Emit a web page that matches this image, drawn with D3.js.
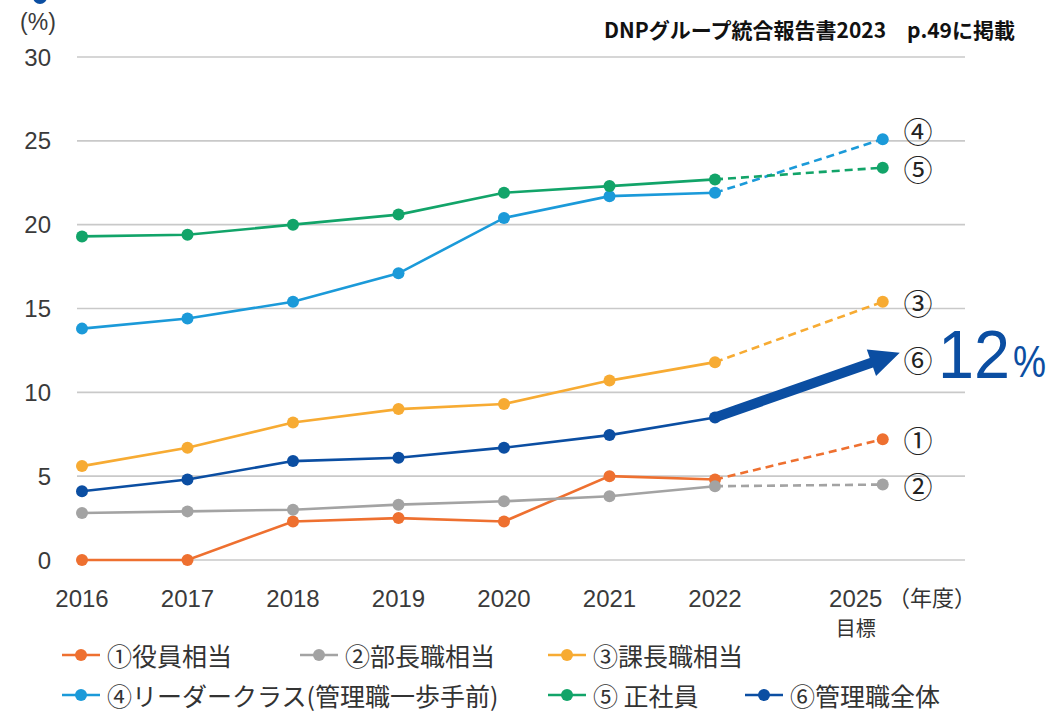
<!DOCTYPE html>
<html>
<head>
<meta charset="utf-8">
<script src="https://cdn.jsdelivr.net/npm/d3@7"></script>
<style>
  body { margin: 0; background: #fff; }
  svg { display: block; }
  .tick-label { font-family: "Liberation Sans Narrow", "Liberation Sans", sans-serif; fill: #3a3a3a; }
  .jp { font-family: "Noto Sans CJK JP", sans-serif; fill: #333; }
</style>
</head>
<body>
<div id="chart"></div>
<script>
// categories (2025 is the target year, drawn with a wider gap)
const years = ["2016", "2017", "2018", "2019", "2020", "2021", "2022", "2025"];
const yTicks = [0, 5, 10, 15, 20, 25, 30];

// series values (%)
const yakuin   = [0.0, 0.0, 2.3, 2.5, 2.3, 5.0, 4.8, 7.2];
const buchou   = [2.8, 2.9, 3.0, 3.3, 3.5, 3.8, 4.4, 4.5];
const kachou   = [5.6, 6.7, 8.2, 9.0, 9.3, 10.7, 11.8, 15.4];
const leader   = [13.8, 14.4, 15.4, 17.1, 20.4, 21.7, 21.9, 25.1];
const seishain = [19.3, 19.4, 20.0, 20.6, 21.9, 22.3, 22.7, 23.4];
const kanri    = [4.1, 4.8, 5.9, 6.1, 6.7, 7.45, 8.5, 12];

const seriesNames = ["①役員相当", "②部長職相当", "③課長職相当", "④リーダークラス(管理職一歩手前)", "⑤ 正社員", "⑥管理職全体"];
const marks = ["①", "②", "③", "④", "⑤", "⑥"];
const colors = ["#ee7030", "#a3a3a3", "#f7ab33", "#1b9ad9", "#12a469", "#0b4ea2"];

const series = [yakuin, buchou, kachou, leader, seishain, kanri].map((v, i) => ({
    name: seriesNames[i], mark: marks[i], color: colors[i], values: v
}));

const width = 1051, height = 712;
const svg = d3.select("#chart").append("svg")
    .attr("width", width).attr("height", height);

// x: index scale, the target year sits 1.6 steps after 2022
const xIndex = years.map((d, i) => i < 7 ? i : 6 + 1.59);
const x = d3.scaleLinear().domain([0, 6]).range([82, 715]);
const y = d3.scaleLinear().domain([0, 30]).range([560, 57]);

// gridlines
svg.append("g").selectAll("line").data(yTicks).join("line")
    .attr("x1", 77).attr("x2", 965)
    .attr("y1", d => y(d)).attr("y2", d => y(d))
    .attr("stroke", "#c9c9c9").attr("stroke-width", 1.6);

// y tick labels
svg.append("g").selectAll("text").data(yTicks).join("text")
    .attr("class", "tick-label")
    .attr("x", 51).attr("y", d => y(d))
    .attr("text-anchor", "end").attr("dominant-baseline", "central")
    .style("font-size", "24px")
    .text(d => d);

svg.append("text").attr("class", "tick-label")
    .attr("x", 38).attr("y", 22).attr("text-anchor", "middle")
    .attr("dominant-baseline", "central")
    .style("font-size", "23px").text("(%)");

// small mark at top-left (cropped in source)
svg.append("circle").attr("cx", 40).attr("cy", -3).attr("r", 7).attr("fill", colors[5]);

// x labels
svg.append("g").selectAll("text").data(years).join("text")
    .attr("class", "tick-label")
    .attr("x", (d, i) => x(xIndex[i]) - (i === 7 ? 27 : 0)).attr("y", 607)
    .attr("text-anchor", "middle")
    .style("font-size", "24px")
    .text(d => d);
svg.append("text").attr("class", "jp")
    .attr("x", 888).attr("y", 606)
    .style("font-size", "22px").text("（年度）");
svg.append("text").attr("class", "jp")
    .attr("x", x(xIndex[7]) - 27).attr("y", 636)
    .attr("text-anchor", "middle")
    .style("font-size", "20px").text("目標");

// title
svg.append("text").attr("class", "jp")
    .attr("x", 1015).attr("y", 38).attr("text-anchor", "end")
    .style("font-size", "21px").style("font-weight", "bold").style("fill", "#111")
    .text("DNPグループ統合報告書2023　p.49に掲載");

const line = d3.line().x(d => x(d[0])).y(d => y(d[1]));

// lines
series.forEach((s, si) => {
    const pts = s.values.map((v, i) => [xIndex[i], v]);
    const g = svg.append("g");
    g.append("path").datum(pts.slice(0, 7))
        .attr("d", line).attr("fill", "none")
        .attr("stroke", s.color).attr("stroke-width", 2.6);
    if (si !== 5) {
        g.append("path").datum(pts.slice(6))
            .attr("d", line).attr("fill", "none")
            .attr("stroke", s.color).attr("stroke-width", 2.6)
            .attr("stroke-dasharray", "8,5");
    }
    const dots = si === 5 ? pts.slice(0, 7) : pts;
    g.selectAll("circle").data(dots).join("circle")
        .attr("cx", d => x(d[0])).attr("cy", d => y(d[1]))
        .attr("r", 6).attr("fill", s.color);
});

// big arrow for ⑥
{
    const s = series[5];
    const x0 = x(xIndex[6]), y0 = y(s.values[6]);
    const x1 = x(xIndex[7]), y1 = y(s.values[7]);
    const ang = Math.atan2(y1 - y0, x1 - x0);
    const len = Math.hypot(x1 - x0, y1 - y0) + 18;
    const headL = 30, headW = 28, shaftW = 10;
    const g = svg.append("g")
        .attr("transform", `translate(${x0},${y0}) rotate(${ang * 180 / Math.PI})`);
    g.append("path")
        .attr("d", `M0,${-shaftW / 2} L${len - headL},${-shaftW / 2} L${len - headL},${-headW / 2}
                    L${len},0 L${len - headL},${headW / 2} L${len - headL},${shaftW / 2} L0,${shaftW / 2} Z`)
        .attr("fill", s.color);
}

// circled end labels
series.forEach(s => {
    svg.append("text").attr("class", "jp")
        .attr("x", 918).attr("y", y(s.values[7]) + (s.mark === "④" ? -9 : 0))
        .attr("text-anchor", "middle").attr("dominant-baseline", "central")
        .style("font-size", "29px").style("fill", "#222")
        .text(s.mark);
});

// 12%
svg.append("text")
    .attr("x", 938).attr("y", 378)
    .attr("textLength", 72).attr("lengthAdjust", "spacingAndGlyphs")
    .style("font-family", "'Liberation Sans', sans-serif").style("font-size", "68px")
    .style("fill", colors[5])
    .text(kanri[7]);
svg.append("text")
    .attr("x", 1013).attr("y", 377)
    .attr("textLength", 33).attr("lengthAdjust", "spacingAndGlyphs")
    .style("font-family", "'Liberation Sans', sans-serif").style("font-size", "44px")
    .style("fill", colors[5])
    .text("%");

// legend
const legendPos = [[62, 655], [300, 655], [548, 655], [62, 695], [548, 695], [745, 695]];
series.forEach((s, i) => {
    const [lx, ly] = legendPos[i];
    const g = svg.append("g").attr("transform", `translate(${lx},${ly})`);
    g.append("line").attr("x1", 0).attr("x2", 38).attr("y1", 0).attr("y2", 0)
        .attr("stroke", s.color).attr("stroke-width", 2.6);
    g.append("circle").attr("cx", 19).attr("cy", 0).attr("r", 6).attr("fill", s.color);
    g.append("text").attr("class", "jp")
        .attr("x", 45).attr("y", 0).attr("dominant-baseline", "central")
        .style("font-size", "25px")
        .text(s.name);
});
</script>
</body>
</html>
